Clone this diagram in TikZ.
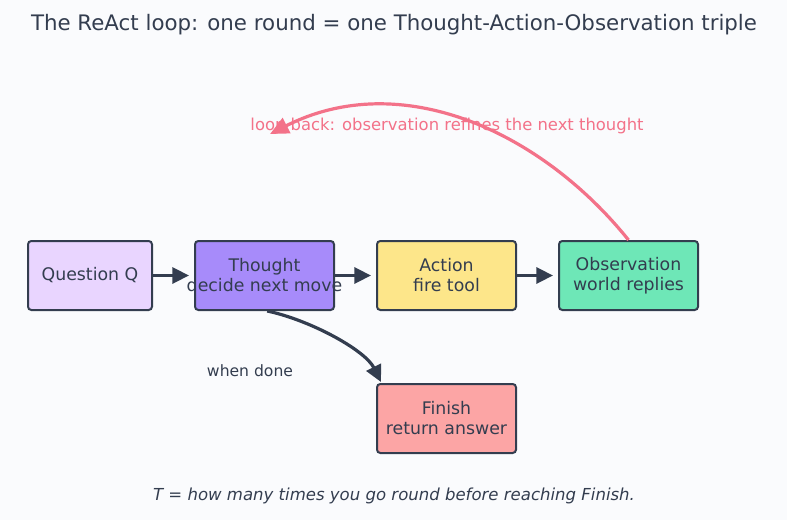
\documentclass[tikz,border=0pt]{standalone}
\usepackage{fontspec}
\setmainfont{DejaVu Sans}
\usetikzlibrary{arrows.meta}
\definecolor{bg}{HTML}{FAFBFD}
\definecolor{ink}{HTML}{333D4F}
\definecolor{qfill}{HTML}{E9D5FF}
\definecolor{tfill}{HTML}{A78BFA}
\definecolor{afill}{HTML}{FDE68A}
\definecolor{ofill}{HTML}{6EE7B7}
\definecolor{ffill}{HTML}{FCA5A5}
\definecolor{loopc}{HTML}{F37289}
% each line is centred in a zero-width box, so long lines may run past the border
\newcommand{\boxline}[1]{\makebox[0pt]{#1}}
\tikzset{
  stepbox/.style={draw=ink, line width=1.5pt, rounded corners=2.5pt, inner sep=0pt,
    minimum width=104.25pt, minimum height=51.75pt, align=center, text=ink,
    font=\fontsize{13}{15}\selectfont},
  flow/.style={draw=ink, line width=2.4pt, -{Triangle[length=12.5pt,width=12pt]}},
  loop/.style={draw=loopc, line width=2.4pt, -{Triangle[length=14pt,width=12.5pt]}},
}
\begin{document}
\begin{tikzpicture}[x=0.75pt, y=-0.75pt]
  \fill[bg] (0,0) rectangle (787,520);
  \useasboundingbox (0,0) rectangle (787,520);

  \node[text=ink, font=\fontsize{16}{19}\selectfont] (title) at (394,25)
    {The ReAct loop: one round = one Thought-Action-Observation triple};

  \node[stepbox, fill=qfill, minimum width=93pt] (q) at (90,275.5) {\boxline{Question Q}};
  \node[stepbox, fill=tfill] (th) at (264.5,275.5) {\boxline{Thought}\\\boxline{decide next move}};
  \node[stepbox, fill=afill] (ac) at (446.5,275.5) {\boxline{Action}\\\boxline{fire tool}};
  \node[stepbox, fill=ofill] (ob) at (628.5,275.5) {\boxline{Observation}\\\boxline{world replies}};
  \node[stepbox, fill=ffill] (fi) at (446.5,418.5) {\boxline{Finish}\\\boxline{return answer}};

  \draw[flow, shorten >=3.75pt] (q) -- (th);
  \draw[flow, shorten >=3.75pt] (th) -- (ac);
  \draw[flow, shorten >=3.75pt] (ac) -- (ob);

  \coordinate (loopend) at (270,134);
  \draw[loop] (ob.north) .. controls (540,130) and (400,68) .. (loopend);
  \node[text=loopc, font=\fontsize{12.3}{14}\selectfont] (looplbl) at (447,126)
    {loop back: observation refines the next thought};

  \coordinate (doneend) at (381,382);
  \draw[flow] ([xshift=2pt]th.south) .. controls (310,320) and (365,350) .. (doneend);
  \node[text=ink, font=\fontsize{11.7}{13}\selectfont] (donelbl) at (250,371) {when done};

  \node[text=ink, font=\fontsize{12.4}{14}\selectfont\itshape] (note) at (394,496)
    {T = how many times you go round before reaching Finish.};
\end{tikzpicture}
\end{document}
